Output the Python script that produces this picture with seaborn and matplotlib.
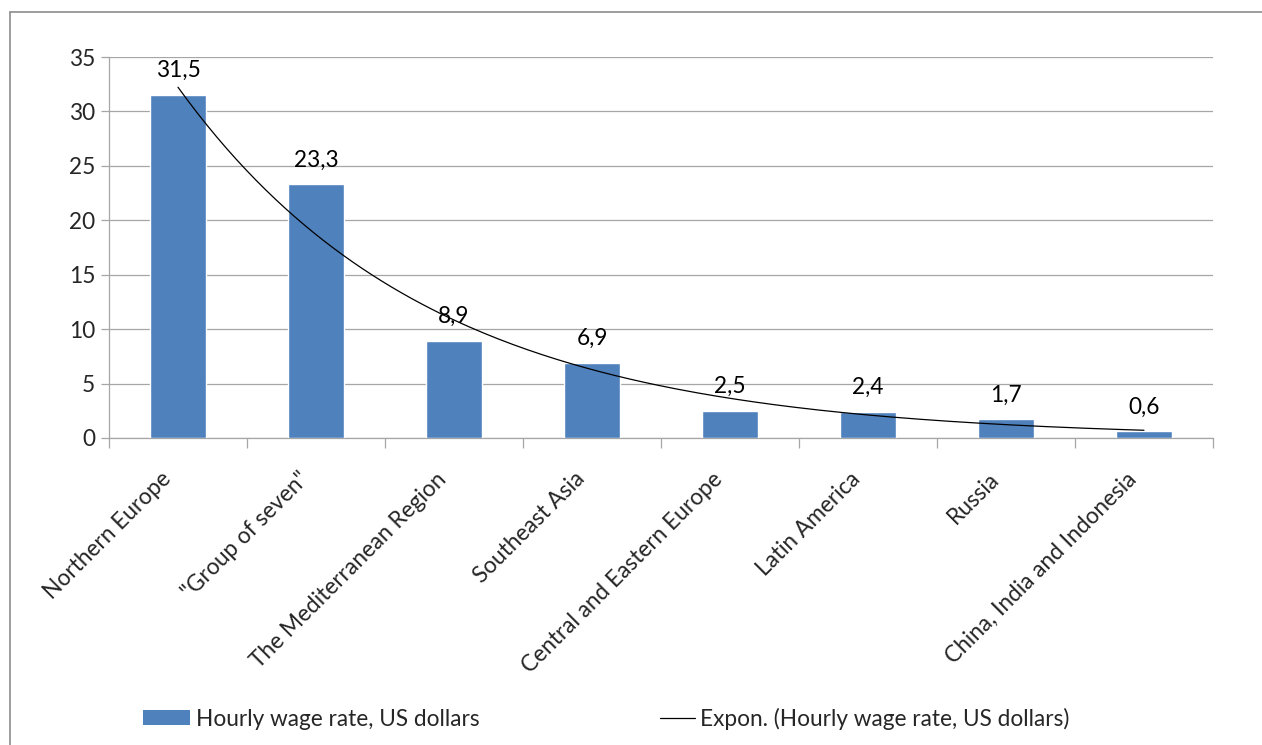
import numpy as np
import pandas as pd
import matplotlib
matplotlib.use("Agg")
import matplotlib.pyplot as plt
import matplotlib.transforms as mtrans
import seaborn as sns
from matplotlib.patches import Patch
from matplotlib.lines import Line2D

categories = ["Northern Europe", "\"Group of seven\"", "The Mediterranean Region",
              "Southeast Asia", "Central and Eastern Europe", "Latin America",
              "Russia", "China, India and Indonesia"]
values = [31.5, 23.3, 8.9, 6.9, 2.5, 2.4, 1.7, 0.6]
value_labels = ["31,5", "23,3", "8,9", "6,9", "2,5", "2,4", "1,7", "0,6"]
y_ticks = [0, 5, 10, 15, 20, 25, 30, 35]
series_name = "Hourly wage rate, US dollars"
trend_name = "Expon. (Hourly wage rate, US dollars)"

sns.set_theme(style="white")
plt.rcParams['font.family'] = ['Lato', 'DejaVu Sans']
FS = 16.3

W, H = 1262, 745
fig = plt.figure(figsize=(W / 100, H / 100), dpi=100)
ax = fig.add_axes([109 / W, 1 - 438 / H, (1213 - 109) / W, (438 - 57) / H])

df = pd.DataFrame({"cat": categories, "val": values})
sns.barplot(data=df, x="cat", y="val", color="#4F81BD", saturation=1,
            width=56 / 138, ax=ax, zorder=3)

# exponential trendline (least squares fit on log values, as Excel does)
xs = np.arange(1, len(values) + 1)
b, a = np.polyfit(xs, np.log(values), 1)
xt = np.linspace(1, len(values), 200)
yt = np.exp(a + b * xt)
ax.plot(xt - 1, yt, color="black", lw=0.9, zorder=4)

for i, (v, lab) in enumerate(zip(values, value_labels)):
    ax.annotate(lab, (i, v), xytext=(0, 10), textcoords="offset points",
                ha="center", va="bottom", fontsize=FS, color="black", zorder=5)

ax.set_xlim(-0.5, len(values) - 0.5)
ax.set_ylim(0, 35)
ax.set_yticks(y_ticks)
ax.set_yticklabels([str(t) for t in y_ticks], fontsize=FS)
ax.yaxis.grid(True, color="#a6a6a6", lw=0.9)
ax.set_axisbelow(True)
ax.set_xlabel("")
ax.set_ylabel("")

for s in ["top", "right"]:
    ax.spines[s].set_visible(False)
for s in ["left", "bottom"]:
    ax.spines[s].set_color("#a6a6a6")
    ax.spines[s].set_linewidth(0.9)

ax.tick_params(axis="y", which="both", left=True, length=6, color="#a6a6a6",
               width=0.9, pad=4, labelsize=FS)
ax.set_xticks(np.arange(len(values)))
ax.set_xticklabels(categories, rotation=45, ha="right", va="top",
                   rotation_mode="anchor", fontsize=FS)
ax.tick_params(axis="x", which="major", bottom=False, pad=0)
offset = mtrans.ScaledTranslation(-18 / 100, -22 / 100, fig.dpi_scale_trans)
for lbl in ax.get_xticklabels():
    lbl.set_transform(lbl.get_transform() + offset)
ax.set_xticks(np.arange(-0.5, len(values), 1), minor=True)
ax.tick_params(axis="x", which="minor", bottom=True, length=7, color="#a6a6a6",
               width=0.9)

# legends
h1 = Patch(facecolor="#4F81BD", edgecolor="none")
h2 = Line2D([0], [0], color="black", lw=0.9)
fs_px = FS * 100 / 72
fig.legend([h1], [series_name], loc="center left",
           bbox_to_anchor=(143 / W, 1 - 719 / H), frameon=False,
           fontsize=FS, handlelength=47 / fs_px, handleheight=15 / fs_px,
           handletextpad=6 / fs_px, borderpad=0, borderaxespad=0)
fig.legend([h2], [trend_name], loc="center left",
           bbox_to_anchor=(660 / W, 1 - 719 / H), frameon=False,
           fontsize=FS, handlelength=35 / fs_px, handletextpad=5 / fs_px,
           borderpad=0, borderaxespad=0)

# outer chart border (top and left visible)
fig.add_artist(Line2D([9.5 / W, 9.5 / W], [0, 1 - 12 / H], color="#8c8c8c",
                      lw=1.2, transform=fig.transFigure))
fig.add_artist(Line2D([9.5 / W, 1], [1 - 12 / H, 1 - 12 / H], color="#8c8c8c",
                      lw=1.2, transform=fig.transFigure))

fig.savefig("out.png", dpi=100, facecolor="white")
